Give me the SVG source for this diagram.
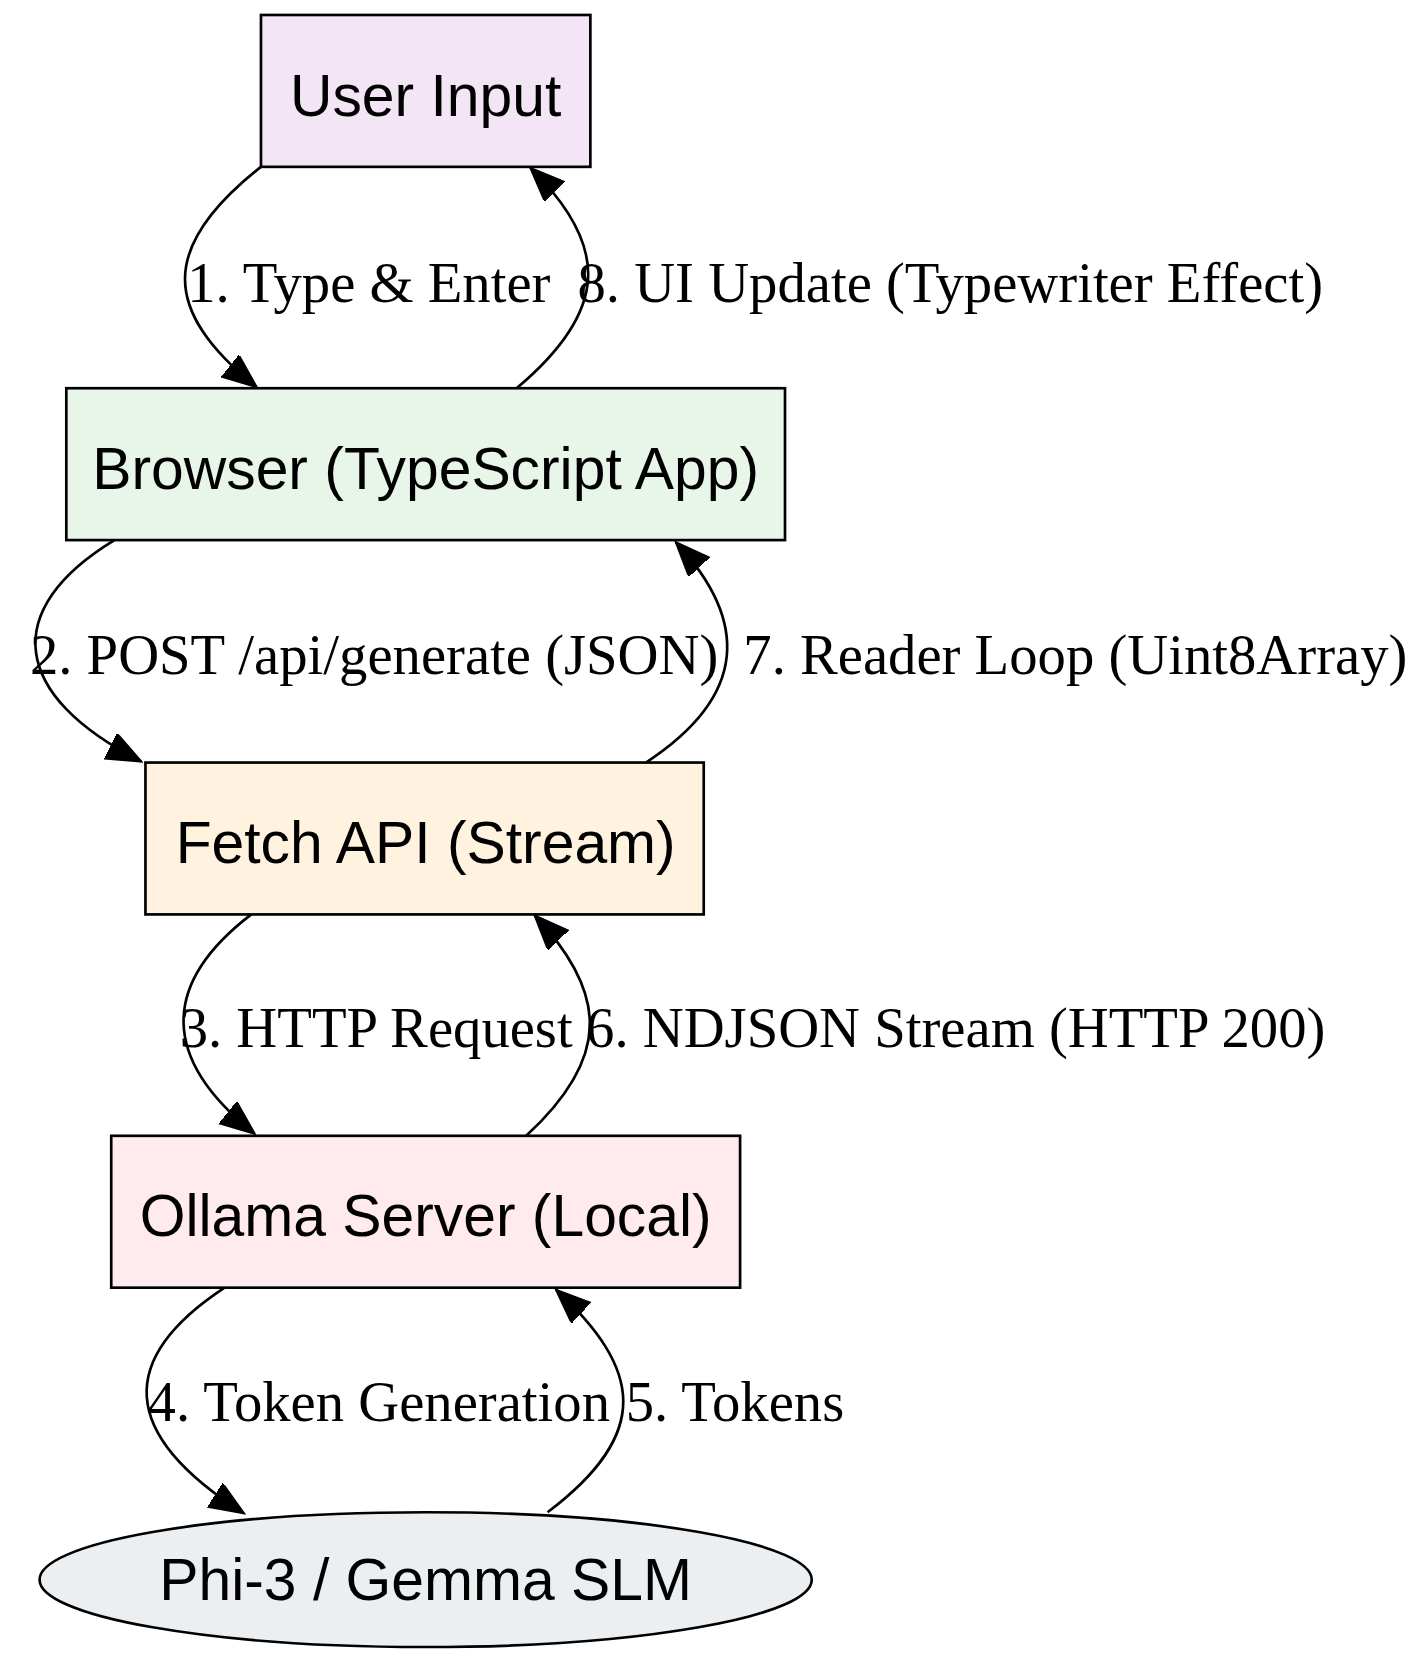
<svg xmlns="http://www.w3.org/2000/svg" width="1416" height="1658" viewBox="0 0 1416 1658">
<style>
.n{stroke:#000;stroke-width:2.5}
.nt{font-family:"Liberation Sans",Arial,sans-serif;font-size:55px;text-anchor:middle;fill:#000}
.e{fill:none;stroke:#000;stroke-width:2.5}
.el{font-family:"Liberation Serif","Times New Roman",serif;font-size:53px;fill:#000}
</style>
<defs>
<marker id="a" markerUnits="userSpaceOnUse" markerWidth="34" markerHeight="28" refX="32" refY="13" orient="auto">
<path d="M0,0 L32,13 L0,26 z" fill="#000" stroke="#000" stroke-width="2"/>
</marker>
</defs>
<rect width="1416" height="1658" fill="#fff"/>
<g transform="scale(1.0695)">
<g id="edges">
<path class="e" marker-end="url(#a)" d="M244,156 C150,230 150,290 240,362"/>
<path class="e" marker-end="url(#a)" d="M483,363 C570,290 570,230 496,157"/>
<path class="e" marker-end="url(#a)" d="M107,505 C0,570 10,650 132,712"/>
<path class="e" marker-end="url(#a)" d="M604,713 C700,650 700,580 632,507"/>
<path class="e" marker-end="url(#a)" d="M235,855 C150,920 150,990 238,1060"/>
<path class="e" marker-end="url(#a)" d="M492,1062 C570,990 570,930 500,856"/>
<path class="e" marker-end="url(#a)" d="M210,1204 C110,1270 110,1340 228,1415"/>
<path class="e" marker-end="url(#a)" d="M512,1414 C610,1340 600,1280 520,1206"/>
<text class="el" x="175" y="282">1. Type &amp; Enter</text>
<text class="el" x="540" y="282">8. UI Update (Typewriter Effect)</text>
<text class="el" x="28" y="630">2. POST /api/generate (JSON)</text>
<text class="el" x="695" y="630">7. Reader Loop (Uint8Array)</text>
<text class="el" x="168" y="979">3. HTTP Request</text>
<text class="el" x="548" y="979">6. NDJSON Stream (HTTP 200)</text>
<text class="el" x="138" y="1329">4. Token Generation</text>
<text class="el" x="585" y="1329">5. Tokens</text>
</g>
<g id="user"><rect class="n" x="244" y="14" width="308" height="142" fill="#f3e5f5"/><text class="nt" x="398" y="108">User Input</text></g>
<g id="browser"><rect class="n" x="62" y="363" width="672" height="142" fill="#e8f5e9"/><text class="nt" x="398" y="457">Browser (TypeScript App)</text></g>
<g id="fetch"><rect class="n" x="136" y="713" width="522" height="142" fill="#fff3e0"/><text class="nt" x="398" y="807">Fetch API (Stream)</text></g>
<g id="ollama"><rect class="n" x="104" y="1062" width="588" height="142" fill="#ffebee"/><text class="nt" x="398" y="1156">Ollama Server (Local)</text></g>
<g id="slm"><ellipse class="n" cx="398" cy="1477" rx="361" ry="63" fill="#eceff1"/><text class="nt" x="398" y="1496">Phi-3 / Gemma SLM</text></g>
</g>
</svg>
